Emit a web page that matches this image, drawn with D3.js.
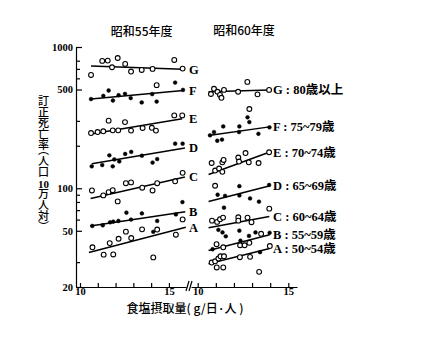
<!DOCTYPE html>
<html><head><meta charset="utf-8">
<script src="https://cdn.jsdelivr.net/npm/d3@7"></script>
<style>
body{margin:0;background:#fff}
#wrap{position:relative;width:423px;height:337px}
svg{display:block;position:absolute;left:0;top:0}
#ytitle{position:absolute;left:37.5px;top:95px;writing-mode:vertical-rl;font-family:'Noto Sans CJK JP',sans-serif;font-size:11px;line-height:12px;font-weight:500;font-feature-settings:"vhal" 1;white-space:nowrap;color:#000}
#ytitle .tcy{text-combine-upright:all;font-family:'Liberation Serif',serif;font-weight:bold}
</style>
</head><body><div id="wrap"><svg id="c" width="423" height="337"></svg><div id="ytitle"></div></div>
<script>
// ---- data ----
const panelTitles = ["昭和55年度", "昭和60年度"];
const seriesKeys = ["G","F","E","D","C","B","A"];
const seriesMarker = ["o","f","o","f","o","f","o"]; // default marker per series
const ageLabels = ["G : 80歳以上","F : 75~79歳","E : 70~74歳","D : 65~69歳","C : 60~64歳","B : 55~59歳","A : 50~54歳"];
const yMajorTicks = [20,50,100,500,1000];
const yMinorTicks = [30,60,70,80,90,200,300,600,700,800];
const xTicks = [10,11,12,13,14,15];
const xTickLabels = [10,15];
const yTitleParts = ["訂正死亡率（人口", "10", "万人対）"];
const xTitle = "食塩摂取量( g/日·人 )";

// 昭和55年度 points [salt g, rate, optional marker override]
const G55 = [[10.62,634],[11.25,797],[11.56,801],[11.80,719],[12.12,836],[12.54,759],[12.87,670],[13.47,688],[14.08,700],[15.30,810],[15.77,703]];
const F55 = [[10.62,428],[11.31,451],[11.61,492],[11.85,418],[12.17,456],[12.53,466],[12.85,435],[13.47,405],[14.06,464],[14.31,537,"o"],[14.31,411],[15.35,560],[15.79,497]];
const E55 = [[10.62,246],[10.99,250],[11.31,253],[11.61,301],[11.84,257],[12.15,257],[12.53,294],[12.87,256],[13.52,267],[14.04,268],[14.27,256],[15.30,328],[15.75,328]];
const D55 = [[10.66,143],[11.25,146],[11.65,171],[11.84,143],[11.93,160],[12.21,155],[12.54,175],[12.88,181],[13.48,170],[14.08,152],[14.34,161],[15.35,207],[15.77,207]];
const C55 = [[10.67,96.5],[11.31,89],[11.61,93.9],[11.84,97],[12.12,80.7],[12.58,108.6],[12.87,110],[13.50,100.9],[14.08,96.5],[14.34,108.6],[15.35,112],[15.77,128.6]];
const B55 = [[10.69,54.1],[11.28,54.7],[11.69,57.4],[11.87,58.1],[12.16,58.7],[12.61,67.2],[12.87,60],[13.48,66.4],[14.12,49.2],[14.34,58.7],[15.39,65.3],[15.76,79.8]];
const A55 = [[10.70,38.2],[11.33,33.9],[11.67,40.9],[11.87,34],[12.17,43.9],[12.58,49.3],[12.88,44.4],[13.49,51.2],[14.12,32.4],[14.34,51],[15.39,46.9],[15.77,60.2]];
// regression lines [start, end]
const fitG55 = [[10.62,735],[15.77,696]];
const fitF55 = [[10.62,428],[15.80,492]];
const fitE55 = [[10.62,242],[15.75,311]];
const fitD55 = [[10.66,149],[15.90,193]];
const fitC55 = [[10.60,84.7],[15.90,120]];
const fitB55 = [[10.58,54.1],[15.92,68.3]];
const fitA55 = [[10.50,35.1],[15.95,52.9]];

// 昭和60年度
const G60 = [[10.73,465],[10.90,506],[11.09,482],[11.23,458],[11.31,437],[11.45,497],[12.23,482],[12.74,566],[13.30,462],[13.94,497]];
const F60 = [[10.68,237],[10.90,250],[11.08,217],[11.34,221],[11.41,274],[12.28,250],[12.30,274],[12.75,318],[12.85,294],[12.85,364,"o"],[13.35,243],[13.96,270]];
const E60 = [[10.77,151],[10.96,133.5],[11.18,138],[11.36,130.7],[11.36,152.6],[11.43,158.6],[12.24,165],[12.28,154.5],[12.64,177.5],[12.82,152.6],[13.36,151],[13.94,179.8]];
const D60 = [[10.96,104.2,"o"],[11.10,90],[11.51,88.3],[11.45,72.9],[12.30,103.5],[12.30,89],[12.89,84.7],[13.38,80.4],[13.94,105.5]];
const C60 = [[10.79,59],[11.07,57.8],[11.23,60.3],[11.40,62],[12.24,62.3],[12.24,59],[12.75,62],[12.97,57.5],[13.95,71.7]];
const B60 = [[10.82,37.0],[11.14,50.8],[11.37,48.7],[11.55,45.7],[11.04,40.2,"o"],[11.41,38.2,"o"],[12.30,50.1],[12.36,42.5],[12.34,39.5,"o"],[12.59,39.5,"o"],[12.83,46.0],[12.85,41.1,"o"],[13.19,48.7],[13.50,47.6,"o"],[13.97,48.4]];
const A60 = [[10.77,29.8],[10.96,30.4],[11.05,27.5],[11.41,27.5],[11.14,31.8],[11.26,33.0],[11.45,33.0],[12.33,32.5],[12.89,32.7],[13.44,35.3,"f"],[13.98,39.0],[13.39,25.6]];
const fitG60 = [[10.60,482],[13.95,497]];
const fitF60 = [[10.60,236],[13.96,272]];
const fitE60 = [[10.60,125],[13.94,179.8]];
const fitD60 = [[10.60,80.7],[13.94,103.8]];
const fitC60 = [[10.60,52.5],[13.95,63.2]];
const fitB60 = [[10.60,36.2],[13.97,46.8]];
const fitA60 = [[10.60,29.2],[13.97,37.5]];

const pts55 = [G55,F55,E55,D55,C55,B55,A55];
const fits55 = [fitG55,fitF55,fitE55,fitD55,fitC55,fitB55,fitA55];
const pts60 = [G60,F60,E60,D60,C60,B60,A60];
const fits60 = [fitG60,fitF60,fitE60,fitD60,fitC60,fitB60,fitA60];

// ---- drawing ----
const serif = "'Liberation Serif','Noto Sans CJK JP',serif";
const cjk = "'Noto Sans CJK JP','Liberation Serif',sans-serif";
const svg = d3.select("#c");
const y = d3.scaleLog().domain([20,1000]).range([287,47]);
const xL = d3.scaleLinear().domain([9.775,15.96]).range([76,186]);
const xR = d3.scaleLinear().domain([9.63,15.48]).range([191,297]);

function styleAxis(g){
  g.selectAll("path,line").attr("stroke","#000").attr("stroke-width",1.2);
  g.selectAll("text").attr("font-family",serif).attr("font-size",10.5).attr("font-weight","bold").attr("fill","#000");
}
// y axis
svg.append("g").attr("transform","translate(76,0)")
  .call(d3.axisLeft(y).tickValues(yMajorTicks).tickFormat(d3.format("d")).tickSizeInner(-6).tickSizeOuter(0).tickPadding(3))
  .call(styleAxis);
svg.append("g").attr("transform","translate(76,0)")
  .call(d3.axisLeft(y).tickValues(yMinorTicks).tickFormat("").tickSizeInner(-4).tickSizeOuter(0))
  .call(g=>g.select(".domain").remove()).call(styleAxis);
// x axes
[xL,xR].forEach(x=>{
  svg.append("g").attr("transform","translate(0,287)")
    .call(d3.axisBottom(x).tickValues(xTicks).tickFormat(d=>xTickLabels.includes(d)?d:"").tickSizeInner(-4).tickSizeOuter(0).tickPadding(1))
    .call(styleAxis);
});
// break marks
svg.append("g").selectAll("line").data([0,3]).join("line")
  .attr("x1",d=>186+d).attr("y1",291).attr("x2",d=>189+d).attr("y2",281)
  .attr("stroke","#000").attr("stroke-width",1.2);

function drawPanel(x, pts, fits, labels, labelX){
  const g = svg.append("g");
  const line = d3.line().x(d=>x(d[0])).y(d=>y(d[1]));
  fits.forEach(f=>{
    g.append("path").attr("d",line(f)).attr("fill","none").attr("stroke","#000").attr("stroke-width",1.5);
  });
  pts.forEach((s,i)=>{
    g.selectAll(null).data(s).join("circle")
      .attr("cx",d=>x(d[0])).attr("cy",d=>y(d[1]))
      .attr("r",d=>((d[2]||seriesMarker[i])==="o")?2.4:1.9)
      .attr("fill",d=>((d[2]||seriesMarker[i])==="o")?"#fff":"#000")
      .attr("stroke","#000").attr("stroke-width",d=>((d[2]||seriesMarker[i])==="o")?1.1:0.5);
  });
  fits.forEach((f,i)=>{
    g.append("text").attr("x",labelX).attr("y",y(f[1][1])).attr("dy","0.35em")
      .attr("font-family",serif).attr("font-size",12.5).attr("font-weight","bold").text(labels[i]);
  });
}
drawPanel(xL, pts55, fits55, seriesKeys, 189);
drawPanel(xR, pts60, fits60, ageLabels, 273);

// titles
svg.append("text").attr("x",141.7).attr("y",32).attr("dy","0.35em").attr("text-anchor","middle")
  .attr("font-family",cjk).attr("font-size",12).attr("font-weight",500).text(panelTitles[0]);
svg.append("text").attr("x",244).attr("y",31).attr("dy","0.35em").attr("text-anchor","middle")
  .attr("font-family",cjk).attr("font-size",12).attr("font-weight",500).text(panelTitles[1]);

// y title: vertical Japanese typesetting, "10" set upright (tate-chu-yoko)
const yt = d3.select("#ytitle");
yt.append("span").text(yTitleParts[0]);
yt.append("span").attr("class","tcy").text(yTitleParts[1]);
yt.append("span").text(yTitleParts[2]);

// x title
svg.append("text").attr("x",185).attr("y",308.5).attr("dy","0.35em").attr("text-anchor","middle")
  .attr("font-family",cjk).attr("font-size",12).attr("font-weight",500).text(xTitle);
</script></body></html>
